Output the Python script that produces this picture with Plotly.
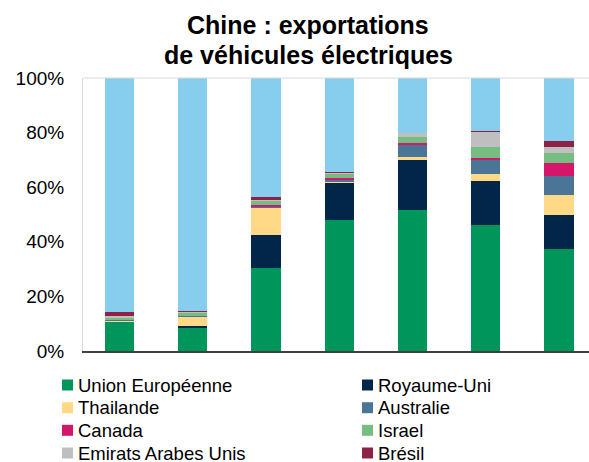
import plotly.graph_objects as go

periods = ["P1", "P2", "P3", "P4", "P5", "P6", "P7"]

union_europeenne = [10.7, 8.7, 30.3, 48.0, 51.6, 46.0, 37.4]
royaume_uni = [0.0, 0.4, 12.2, 13.7, 18.4, 16.4, 12.5]
thailande = [0.6, 3.4, 10.0, 0.3, 1.0, 2.4, 7.2]
australie = [0.2, 0.4, 0.3, 0.5, 4.7, 5.4, 7.0]
canada = [0.2, 0.1, 0.6, 0.9, 0.4, 0.4, 4.8]
israel = [0.5, 1.0, 1.6, 1.5, 2.3, 4.1, 3.6]
emirats = [0.6, 0.3, 0.2, 0.5, 1.3, 5.6, 2.2]
bresil = [1.6, 0.3, 1.2, 0.2, 0.0, 0.3, 2.2]

tick_vals = [0, 0.2, 0.4, 0.6, 0.8, 1.0]
tick_text = ["0%", "20%", "40%", "60%", "80%", "100%"]

series = [
    ("Union Européenne", union_europeenne, "#00955A"),
    ("Royaume-Uni", royaume_uni, "#022649"),
    ("Thailande", thailande, "#FFD985"),
    ("Australie", australie, "#4A7597"),
    ("Canada", canada, "#D6166A"),
    ("Israel", israel, "#76BD82"),
    ("Emirats Arabes Unis", emirats, "#BFBFBF"),
    ("Brésil", bresil, "#8E2148"),
]

autres = [100 - sum(s[1][i] for s in series) for i in range(len(periods))]

FONT = "Arial, Liberation Sans, sans-serif"
W, H = 589, 462
ML, MR, MT, MB = 83, 0, 78, 111
PW, PH = W - ML - MR, H - MT - MB


def px_x(p):
    return (p - ML) / PW


def px_y(p):
    return (H - MB - p) / PH


fig = go.Figure()
for name, vals, color in series:
    fig.add_trace(go.Bar(x=periods, y=[v / 100 for v in vals], name=name,
                         showlegend=False,
                         marker=dict(color=color, line=dict(width=0))))
fig.add_trace(go.Bar(x=periods, y=[v / 100 for v in autres], name="Autres",
                     showlegend=False, marker=dict(color="#87CEEE", line=dict(width=0))))

annotations = [
    dict(text="<b>Chine : exportations</b>", x=px_x(308), y=px_y(25), xref="paper", yref="paper",
         xanchor="center", yanchor="middle", showarrow=False,
         font=dict(size=25, family=FONT, color="black")),
    dict(text="<b>de véhicules électriques</b>", x=px_x(308), y=px_y(55), xref="paper", yref="paper",
         xanchor="center", yanchor="middle", showarrow=False,
         font=dict(size=25, family=FONT, color="black")),
]
shapes = [dict(type="line", xref="x domain", yref="y domain", x0=0, x1=1, y0=1, y1=1,
               line=dict(color="#D9D9D9", width=1))]

# legend (two columns, row-wise)
col_x = [62, 362]
row_y = [385, 407.7, 430.3, 453]
for i, (name, vals, color) in enumerate(series):
    cx = col_x[i % 2]
    cy = row_y[i // 2]
    shapes.append(dict(type="rect", xref="paper", yref="paper",
                       x0=px_x(cx), x1=px_x(cx + 11), y0=px_y(cy - 5.5), y1=px_y(cy + 5.5),
                       fillcolor=color, line=dict(width=0)))
    annotations.append(dict(text=name, x=px_x(cx + 14), y=px_y(cy), xref="paper", yref="paper",
                            xanchor="left", yanchor="middle", showarrow=False,
                            font=dict(size=18.5, family=FONT, color="black")))

fig.update_layout(
    width=W, height=H,
    margin=dict(l=ML, r=MR, t=MT, b=MB),
    barmode="stack", bargap=0.6,
    paper_bgcolor="white", plot_bgcolor="white",
    font=dict(family=FONT, color="black"),
    showlegend=False,
    xaxis=dict(range=[-0.5, 6.41], showticklabels=False, ticks="",
               showline=True, linecolor="#404040", linewidth=2, showgrid=False,
               zeroline=False),
    yaxis=dict(range=[0, 1], tickvals=tick_vals, ticktext=tick_text,
               tickfont=dict(size=19, family=FONT, color="black"),
               showgrid=False, zeroline=False, showline=True,
               linecolor="#D9D9D9", linewidth=1, ticks="", ticklabelstandoff=14),
    annotations=annotations,
    shapes=shapes,
)

fig.write_html("out.html")
